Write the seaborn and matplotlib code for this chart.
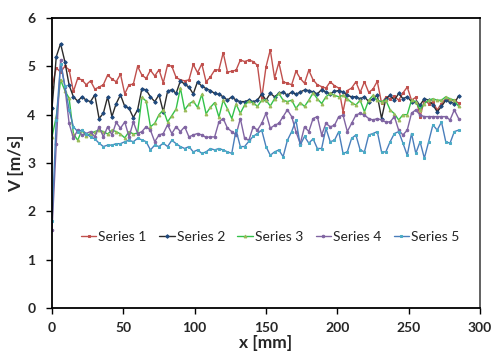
import numpy as np
import pandas as pd
import matplotlib
matplotlib.use("Agg")
import matplotlib.pyplot as plt
import seaborn as sns

x_mm = list(range(0, 288, 3))

series_names = ["Series 1", "Series 2", "Series 3", "Series 4", "Series 5"]

s1 = [4.57, 4.97, 4.88, 5.00, 4.93, 4.48, 4.75, 4.72, 4.62, 4.70,
      4.53, 4.57, 4.62, 4.82, 4.74, 4.68, 4.84, 4.43, 4.62, 4.63,
      5.00, 4.82, 4.75, 4.92, 4.80, 4.93, 4.66, 5.03, 5.00, 4.77,
      4.72, 4.70, 4.72, 5.04, 4.87, 5.05, 4.68, 4.78, 4.92, 4.93,
      5.28, 4.88, 4.90, 4.92, 5.13, 5.10, 5.13, 5.10, 5.02, 4.34,
      4.99, 5.34, 4.76, 5.08, 4.68, 4.65, 4.62, 4.90, 4.75, 4.65,
      4.92, 4.72, 4.62, 4.58, 4.55, 4.68, 4.60, 4.55, 4.06, 4.50,
      4.55, 4.68, 4.46, 4.68, 4.46, 4.53, 4.69, 4.24, 4.36, 4.33,
      4.38, 4.30, 4.45, 4.57, 4.30, 4.36, 3.96, 4.30, 4.23, 4.26,
      4.10, 4.23, 4.33, 4.30, 4.30, 4.24]

s2 = [4.13, 5.20, 5.47, 5.10, 4.61, 4.37, 4.28, 4.37, 4.30, 4.27,
      4.41, 3.92, 4.03, 4.37, 3.96, 4.23, 4.41, 4.17, 4.13, 3.94,
      4.10, 4.54, 4.51, 4.37, 4.27, 4.41, 4.06, 4.48, 4.52, 4.44,
      4.70, 4.63, 4.57, 4.43, 4.68, 4.59, 4.54, 4.50, 4.44, 4.42,
      4.37, 4.30, 4.37, 4.30, 4.27, 4.27, 4.30, 4.27, 4.30, 4.43,
      4.30, 4.44, 4.37, 4.44, 4.47, 4.40, 4.47, 4.42, 4.47, 4.51,
      4.50, 4.47, 4.43, 4.52, 4.47, 4.43, 4.48, 4.50, 4.47, 4.40,
      4.37, 4.37, 4.33, 4.37, 4.27, 4.33, 4.40, 3.92, 4.33, 4.40,
      4.30, 4.44, 4.33, 4.37, 4.27, 4.27, 4.20, 4.33, 4.30, 4.20,
      4.06, 4.17, 4.30, 4.27, 4.23, 4.39]

s3 = [3.54, 3.96, 4.72, 4.50, 4.34, 3.61, 3.47, 3.68, 3.55, 3.61,
      3.65, 3.68, 3.65, 3.60, 3.68, 3.65, 3.60, 3.52, 3.65, 3.60,
      3.62, 4.36, 4.28, 3.75, 3.82, 4.00, 4.10, 3.85, 3.98, 4.12,
      4.55, 4.10, 4.22, 4.28, 4.15, 4.42, 4.02, 4.15, 4.25, 3.95,
      4.30, 4.12, 3.92, 4.22, 4.03, 4.20, 4.28, 4.25, 4.17, 4.30,
      4.30, 4.18, 4.33, 4.44, 4.30, 4.27, 4.30, 4.13, 4.25, 4.17,
      4.30, 4.45, 4.33, 4.23, 4.37, 4.44, 4.40, 4.37, 4.40, 4.33,
      4.25, 4.20, 4.30, 4.06, 4.30, 4.40, 4.30, 4.27, 4.30, 4.10,
      4.02, 3.89, 4.00, 4.00, 4.30, 4.27, 4.10, 4.23, 4.30, 4.33,
      4.30, 4.30, 4.37, 4.33, 4.30, 4.17]

s4 = [1.61, 3.40, 5.13, 4.58, 3.82, 3.51, 3.68, 3.58, 3.61, 3.65,
      3.54, 3.75, 3.54, 3.75, 3.58, 3.84, 3.72, 3.85, 3.54, 3.85,
      3.61, 3.65, 3.75, 3.68, 3.44, 3.58, 3.61, 3.79, 3.61, 3.75,
      3.65, 3.75, 3.54, 3.58, 3.61, 3.58, 3.53, 3.54, 3.54, 3.85,
      3.92, 3.72, 3.65, 3.58, 3.92, 3.51, 3.47, 3.75, 3.68, 3.82,
      4.03, 3.72, 3.78, 3.82, 3.96, 4.10, 3.96, 3.65, 3.40, 3.75,
      3.65, 3.92, 3.96, 3.58, 3.82, 3.75, 3.78, 3.96, 3.99, 3.65,
      3.82, 3.99, 4.03, 3.99, 3.92, 3.89, 3.92, 3.89, 3.85, 3.85,
      3.96, 3.68, 3.58, 3.68, 4.03, 4.10, 3.99, 3.96, 3.96, 3.96,
      3.96, 3.96, 3.96, 3.89, 4.10, 3.92]

s5 = [1.79, 3.90, 5.05, 4.60, 4.10, 3.75, 3.65, 3.68, 3.61, 3.54,
      3.50, 3.41, 3.34, 3.37, 3.37, 3.40, 3.40, 3.44, 3.47, 3.44,
      3.51, 3.48, 3.44, 3.27, 3.37, 3.34, 3.41, 3.34, 3.47, 3.40,
      3.34, 3.30, 3.34, 3.23, 3.27, 3.20, 3.23, 3.30, 3.27, 3.30,
      3.27, 3.23, 3.20, 3.68, 3.34, 3.34, 3.45, 3.55, 3.61, 3.68,
      3.34, 3.16, 3.23, 3.27, 3.13, 3.47, 3.65, 3.89, 3.37, 3.55,
      3.41, 3.50, 3.30, 3.30, 3.72, 3.44, 3.47, 3.65, 3.20, 3.23,
      3.51, 3.58, 3.27, 3.23, 3.58, 3.61, 3.65, 3.23, 3.23, 3.44,
      3.61, 3.65, 3.41, 3.16, 3.61, 3.20, 3.44, 3.10, 3.44, 3.79,
      3.68, 3.85, 3.44, 3.41, 3.65, 3.68]

x_ticks = [0, 50, 100, 150, 200, 250, 300]
y_ticks = [0, 1, 2, 3, 4, 5, 6]

sns.set_style("white")
plt.rcParams['font.family'] = ['Lato', 'DejaVu Sans']

fig = plt.figure(figsize=(5.01, 3.57), dpi=100)
ax = fig.add_axes([52/501, 1-308/357, (480-52)/501, (308-18)/357])

styles = [
    dict(color="#C0504D", marker="s", mfc="#C0504D", ms=1.8),
    dict(color="#2B2B2B", marker="D", mfc="#1F497D", ms=1.8),
    dict(color="#33C24A", marker="^", mfc="#9BBB59", ms=2.0),
    dict(color="#8064A2", marker="o", mfc="#8064A2", ms=1.8),
    dict(color="#4A7EBB", marker="s", mfc="#4BACC6", ms=1.8),
]
data = [s1, s2, s3, s4, s5]

for name, vals, st in zip(series_names, data, styles):
    df = pd.DataFrame({"x": x_mm, "v": vals})
    sns.lineplot(data=df, x="x", y="v", ax=ax, color=st["color"], linewidth=1.0,
                 marker=st["marker"], markersize=st["ms"],
                 markerfacecolor=st["mfc"], markeredgecolor=st["mfc"],
                 label=name, errorbar=None)

ax.set_xlim(0, 300)
ax.set_ylim(0, 6)
ax.set_xticks(x_ticks)
ax.set_yticks(y_ticks)
ax.set_xticklabels([str(t) for t in x_ticks], fontweight="bold", fontsize=10)
ax.set_yticklabels([str(t) for t in y_ticks], fontweight="bold", fontsize=10)
ax.tick_params(axis="x", direction="out", length=4, width=1, color="black", pad=6,
               bottom=True)
ax.tick_params(axis="y", direction="out", length=4, width=1, color="black", pad=8,
               left=True)
ax.set_xlabel("x [mm]", fontweight="bold", fontsize=12.5, labelpad=1)
ax.set_ylabel("V [m/s]", fontweight="bold", fontsize=12.5, labelpad=2)

for side in ["left", "bottom", "top"]:
    ax.spines[side].set_color("black")
    ax.spines[side].set_linewidth(1.3)
ax.spines["right"].set_color("#555555")
ax.spines["right"].set_linewidth(1.3)

leg = ax.legend(loc="center", bbox_to_anchor=(0.51, 0.245), ncol=5, frameon=False,
                fontsize=10, handlelength=1.1, columnspacing=0.9, handletextpad=0.15,
                borderaxespad=0)
for h in leg.get_lines():
    h.set_linewidth(1.0)

fig.savefig("out.png", dpi=100)
